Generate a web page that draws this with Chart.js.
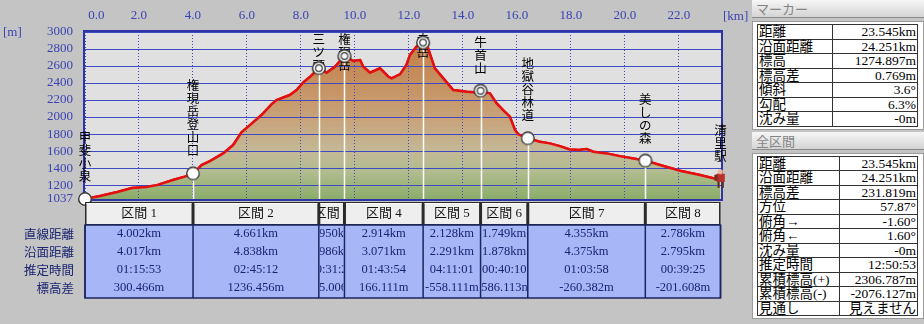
<!DOCTYPE html>
<html>
<head>
<meta charset="utf-8">
<script src="https://cdn.jsdelivr.net/npm/chart.js@4.4.1/dist/chart.umd.min.js"></script>
<style>
  body { margin: 0; background: #c4c4c4; width: 924px; height: 324px; overflow: hidden; position: relative;
         font-family: "Liberation Serif", "Noto Sans CJK JP", serif; }
  #wrap { position: absolute; left: 0; top: 0; width: 750px; height: 324px; }
  #side { position: absolute; left: 752px; top: 0; width: 172px; }
  .hdr { height: 17px; line-height: 17px; background: linear-gradient(#f6f6f6, #d4d4d4); border-bottom: 1px solid #8a8a8a;
         color: #858585; font-size: 13px; padding-left: 4px; font-family: "Noto Sans CJK JP", sans-serif; }
  .box { background: #fff; border: 1px solid #9a9a9a; margin: 3px 0 2px 0; padding: 2px 5px 2px 4px; }
  table { border-collapse: collapse; width: 100%; }
  td { border: 1px solid #333; height: 13.5px; line-height: 13px; font-size: 13.5px; padding: 0 1px; white-space: nowrap; color: #000; }
  td.v { text-align: right; }
</style>
</head>
<body>
<div id="wrap"><canvas id="profileChart" width="750" height="324"></canvas></div>
<div id="side">
  <div class="hdr">マーカー</div>
  <div class="box"><table id="markerTable"></table></div>
  <div class="hdr">全区間</div>
  <div class="box"><table id="totalTable"></table></div>
</div>
<script>
// elevation profile (km along route, metres)
const profileKm = [0, 0.6, 1.2, 1.74, 2.26, 2.67, 3.26, 3.7, 4.0, 4.15, 4.32, 4.63, 5.12, 5.49, 5.8, 6.11, 6.54, 6.91, 7.1,
  7.59, 7.84, 8.09, 8.33, 8.66, 8.95, 9.26, 9.61, 9.94, 10.19, 10.31, 10.56, 10.93, 11.24, 11.36, 11.67, 11.91, 12.04,
  12.28, 12.53, 12.71, 12.96, 13.33, 13.64, 14.14, 14.51, 14.66, 15.0, 15.25, 15.49, 15.74, 15.93, 16.05, 16.4, 16.85,
  17.22, 17.59, 17.96, 18.3, 18.58, 18.83, 19.32, 19.81, 20.31, 20.76, 21.3, 22.04, 22.78, 23.46, 23.545];
const profileElev = [1037, 1075, 1120, 1165, 1177, 1200, 1260, 1300, 1337, 1380, 1436, 1483, 1573, 1671, 1820, 1906, 2024,
  2149, 2200, 2259, 2318, 2408, 2470, 2574, 2521, 2592, 2717, 2659, 2670, 2592, 2521, 2573, 2474, 2455, 2502, 2612, 2729,
  2827, 2876, 2808, 2573, 2435, 2317, 2298, 2290, 2300, 2279, 2161, 2082, 2004, 1848, 1797, 1750, 1710, 1691, 1659, 1620,
  1612, 1624, 1592, 1573, 1541, 1514, 1488, 1436, 1369, 1318, 1267, 1275];

// waypoints
const markerNames = ['甲斐小泉', '権現岳登山口', '三ツ頭', '権現岳', '赤岳', '牛首山', '地獄谷林道', '美しの森', '清里駅'];
const markerKm = [0, 4.002, 8.663, 9.613, 12.527, 14.655, 16.404, 20.759, 23.545];
const markerElev = [1037, 1337, 2574, 2717, 2876, 2310, 1750, 1488, 1275];
const markerKinds = ['plain', 'plain', 'peak', 'peak', 'peak', 'peak', 'plain', 'plain', 'end'];

// axis ticks
const xTicks = [0, 2, 4, 6, 8, 10, 12, 14, 16, 18, 20, 22];
const yTicks = [1037, 1200, 1400, 1600, 1800, 2000, 2200, 2400, 2600, 2800, 3000];

// section table
const sectionNames = ['区間 1', '区間 2', '区間 3', '区間 4', '区間 5', '区間 6', '区間 7', '区間 8'];
const rowLabels = ['直線距離', '沿面距離', '推定時間', '標高差'];
const straightDist = ['4.002km', '4.661km', '0.950km', '2.914km', '2.128km', '1.749km', '4.355km', '2.786km'];
const surfaceDist = ['4.017km', '4.838km', '0.986km', '3.071km', '2.291km', '1.878km', '4.375km', '2.795km'];
const estTime = ['01:15:53', '02:45:12', '00:31:20', '01:43:54', '04:11:01', '00:40:10', '01:03:58', '00:39:25'];
const elevDiff = ['300.466m', '1236.456m', '145.006m', '166.111m', '-558.111m', '-586.113m', '-260.382m', '-201.608m'];

// side panels
const markerInfoLabels = ['距離', '沿面距離', '標高', '標高差', '傾斜', '勾配', '沈み量'];
const markerInfoValues = ['23.545km', '24.251km', '1274.897m', '0.769m', '3.6°', '6.3%', '-0m'];
const totalInfoLabels = ['距離', '沿面距離', '標高差', '方位', '俯角→', '俯角←', '沈み量', '推定時間', '累積標高(+)', '累積標高(-)', '見通し'];
const totalInfoValues = ['23.545km', '24.251km', '231.819m', '57.87°', '-1.60°', '1.60°', '-0m', '12:50:53', '2306.787m', '-2076.127m', '見えません'];

const fillTable = (id, labels, values) => {
    const t = document.getElementById(id);
    labels.forEach((l, i) => {
        const tr = document.createElement('tr');
        tr.innerHTML = `<td>${l}</td><td class="v">${values[i]}</td>`;
        t.appendChild(tr);
    });
};
fillTable('markerTable', markerInfoLabels, markerInfoValues);
fillTable('totalTable', totalInfoLabels, totalInfoValues);

const blue = '#3b43b4';
const cjk = '"Noto Sans CJK JP", sans-serif';
const serif = '"Liberation Serif", "Noto Sans CJK JP", serif';

// point style images
const makeIcon = (kind) => {
    const c = document.createElement('canvas');
    c.width = 16; c.height = kind === 'end' ? 20 : 16;
    const g = c.getContext('2d');
    if (kind === 'end') {
        g.fillStyle = '#5a2a20'; g.fillRect(5, 12, 2, 7); g.fillRect(9, 12, 2, 7);
        g.fillStyle = '#b8302a'; g.fillRect(4, 5, 8, 8);
        g.fillStyle = '#7a2a22'; g.fillRect(2, 6, 3, 6);
        g.fillStyle = '#e8b898'; g.beginPath(); g.arc(8, 3, 2.5, 0, Math.PI * 2); g.fill();
        return c;
    }
    g.fillStyle = '#fff'; g.strokeStyle = '#333'; g.lineWidth = 1.2;
    g.beginPath(); g.arc(8, 8, 6.2, 0, Math.PI * 2); g.fill(); g.stroke();
    if (kind === 'peak') {
        g.beginPath(); g.arc(8, 8, 3.3, 0, Math.PI * 2); g.stroke();
    }
    return c;
};
const markerIcons = markerKinds.map(makeIcon);

const fillGradient = (c) => {
    const a = c.chart.chartArea;
    if (!a) return '#c4a070';
    const g = c.chart.ctx.createLinearGradient(0, a.top, 0, a.bottom);
    g.addColorStop(0, '#c07a42');
    g.addColorStop(0.11, '#c4824c');
    g.addColorStop(0.29, '#c68f5e');
    g.addColorStop(0.53, '#c8a47c');
    g.addColorStop(0.71, '#c4b896');
    g.addColorStop(0.83, '#b2bc90');
    g.addColorStop(0.95, '#96b274');
    g.addColorStop(1, '#8cac6a');
    return g;
};

const profileExtras = {
    id: 'profileExtras',
    beforeDraw(chart) {
        const { ctx, chartArea: a } = chart;
        ctx.save();
        ctx.fillStyle = '#e0e0e0';
        ctx.fillRect(a.left, a.top, a.right - a.left, a.bottom - a.top);
        ctx.restore();
    },
    afterDraw(chart) {
        const { ctx, chartArea: a, scales: { x, y } } = chart;
        ctx.save();
        ctx.strokeStyle = '#2c34a6'; ctx.lineWidth = 2;
        ctx.strokeRect(a.left - 1, a.top - 1, a.right - a.left + 1, a.bottom - a.top + 2);
        // drop lines
        ctx.strokeStyle = '#fff'; ctx.lineWidth = 1.5;
        markerKm.forEach((k, i) => {
            if (markerKinds[i] === 'end') return;
            const px = Math.round(x.getPixelForValue(k)) + 0.5;
            ctx.beginPath(); ctx.moveTo(px, y.getPixelForValue(markerElev[i])); ctx.lineTo(px, a.bottom); ctx.stroke();
        });
        ctx.restore();

        chart.getDatasetMeta(1).controller.draw();

        // vertical labels
        ctx.save();
        ctx.font = '12.5px ' + cjk; ctx.fillStyle = '#000'; ctx.textAlign = 'center'; ctx.textBaseline = 'top';
        markerNames.forEach((name, i) => {
            const px = x.getPixelForValue(markerKm[i]);
            const py = y.getPixelForValue(markerElev[i]);
            const chars = [...name];
            const top = Math.max(a.top + 1, py - 16 - chars.length * 13);
            chars.forEach((ch, j) => ctx.fillText(ch, px, top + j * 13));
        });
        ctx.restore();

        chart.getDatasetMeta(2).controller.draw();

        // units
        ctx.save();
        ctx.font = '13px ' + serif; ctx.fillStyle = blue; ctx.textBaseline = 'middle';
        ctx.textAlign = 'left'; ctx.fillText('[m]', 3, 33);
        ctx.fillText('[km]', 723, 17);
        ctx.restore();

        // section table
        const cols = markerKm.map(k => x.getPixelForValue(k));
        const hTop = 202, hBot = 225, dBot = 298;
        ctx.save();
        ctx.fillStyle = '#2a2a2a';
        ctx.fillRect(cols[0], hTop, cols[cols.length - 1] - cols[0], hBot - hTop);
        ctx.fillStyle = '#a7b6f7';
        ctx.fillRect(cols[0], hBot, cols[cols.length - 1] - cols[0], dBot - hBot);
        const rows = [straightDist, surfaceDist, estTime, elevDiff];
        sectionNames.forEach((s, i) => {
            const l = cols[i], r = cols[i + 1], cx = (l + r) / 2;
            ctx.fillStyle = '#eeeeee';
            ctx.fillRect(l + 1.5, hTop + 1, r - l - 3, hBot - hTop - 2);
            ctx.fillStyle = '#ffffff';
            ctx.fillRect(l + 1.5, hTop + 1, r - l - 3, 1);
            ctx.save();
            ctx.beginPath(); ctx.rect(l + 1, hTop, r - l - 2, dBot - hTop); ctx.clip();
            ctx.textAlign = 'center'; ctx.textBaseline = 'middle';
            ctx.fillStyle = '#111'; ctx.font = '13px ' + serif;
            ctx.fillText(s, cx, 214);
            ctx.fillStyle = '#1a2470'; ctx.font = '12.5px ' + serif;
            rows.forEach((row, j) => ctx.fillText(row[i], cx, 234 + j * 18));
            ctx.restore();
        });
        ctx.strokeStyle = '#1c2560'; ctx.lineWidth = 1.5;
        ctx.strokeRect(cols[0], hBot, cols[cols.length - 1] - cols[0], dBot - hBot);
        cols.forEach(c => { ctx.beginPath(); ctx.moveTo(c, hBot); ctx.lineTo(c, dBot); ctx.stroke(); });
        ctx.fillStyle = '#1a2470'; ctx.font = '12.5px ' + cjk; ctx.textAlign = 'right'; ctx.textBaseline = 'middle';
        rowLabels.forEach((t, j) => ctx.fillText(t, 74, 234 + j * 18));
        ctx.restore();
    }
};

const initProfileChart = () => {
    const ctx = document.getElementById('profileChart').getContext('2d');
    const profilePoints = profileKm.map((k, i) => ({ x: k, y: profileElev[i] }));
    const markerPoints = markerKm.map((k, i) => ({ x: k, y: markerElev[i] }));

    new Chart(ctx, {
        type: 'line',
        data: {
            datasets: [{
                data: profilePoints,
                fill: 'start',
                backgroundColor: fillGradient,
                borderWidth: 0,
                pointRadius: 0
            }, {
                data: profilePoints,
                fill: false,
                borderColor: '#e41010',
                borderWidth: 2.5,
                pointRadius: 0,
                tension: 0
            }, {
                data: markerPoints,
                showLine: false,
                pointStyle: markerIcons,
                pointRadius: 7,
                clip: false
            }]
        },
        options: {
            responsive: false,
            animation: false,
            events: [],
            layout: { padding: { left: 0, top: 0, right: 28, bottom: 125 } },
            plugins: { legend: { display: false }, tooltip: { enabled: false } },
            scales: {
                x: {
                    type: 'linear',
                    position: 'top',
                    min: 0,
                    max: 23.6,
                    afterFit: (s) => { s.height = 32; },
                    afterBuildTicks: (s) => { s.ticks = xTicks.map(v => ({ value: v })); },
                    grid: { color: '#3d4ac4', lineWidth: 1, drawTicks: false, z: 1 },
                    border: { display: false, dash: [1, 2] },
                    ticks: {
                        color: blue, padding: 9, autoSkip: false, maxRotation: 0,
                        font: { family: serif, size: 13 },
                        callback: (v) => v === 0 ? '       0.0' : v.toFixed(1)
                    }
                },
                y: {
                    type: 'linear',
                    min: 1037,
                    max: 3000,
                    afterFit: (s) => { s.width = 85; },
                    afterBuildTicks: (s) => { s.ticks = yTicks.map(v => ({ value: v })); },
                    grid: { color: '#3d4ac4', lineWidth: 1, drawTicks: false, z: 1 },
                    border: { display: false },
                    ticks: {
                        color: blue, padding: 12, autoSkip: false,
                        font: { family: serif, size: 13 },
                        callback: (v) => String(v)
                    }
                }
            }
        },
        plugins: [profileExtras]
    });
};

document.addEventListener('DOMContentLoaded', () => {
    initProfileChart();
});
</script>
</body>
</html>
